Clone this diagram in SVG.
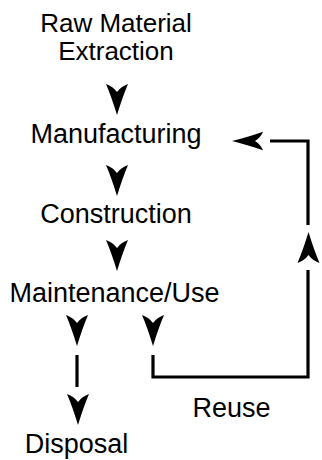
<svg xmlns="http://www.w3.org/2000/svg" xmlns:xlink="http://www.w3.org/1999/xlink" width="322" height="460" viewBox="0 0 322 460">
<style>
text{font-family:"Liberation Sans",Arial,sans-serif;font-size:27px;fill:#000;text-anchor:middle}
.ln{stroke:#000;stroke-width:3.2;fill:none;stroke-linecap:butt}
</style>
<defs>
<path id="ah" d="M0,31 Q-5.5,13 -11,0 Q-4,2.5 0,8 Q4,2.5 11,0 Q5.5,13 0,31 Z" fill="#000"/>
</defs>
<rect width="322" height="460" fill="#fff"/>
<g id="raw"><text x="116" y="32" style="font-size:26px">Raw Material</text><text x="116" y="60" style="font-size:26px">Extraction</text></g>
<g id="manufacturing"><text x="116" y="143">Manufacturing</text></g>
<g id="construction"><text x="116" y="223">Construction</text></g>
<g id="maintenance"><text x="114.5" y="302">Maintenance/Use</text></g>
<g id="disposal"><text x="76.5" y="453">Disposal</text></g>
<g id="reuse"><text x="231.5" y="417">Reuse</text></g>
<g id="connectors">
<use xlink:href="#ah" transform="translate(117,84)"/>
<use xlink:href="#ah" transform="translate(117,165)"/>
<use xlink:href="#ah" transform="translate(117,240)"/>
<use xlink:href="#ah" transform="translate(77,315)"/>
<use xlink:href="#ah" transform="translate(153,315)"/>
<line class="ln" x1="77" y1="355" x2="77" y2="387"/>
<use xlink:href="#ah" transform="translate(78,394)"/>
<polyline class="ln" points="153,355 153,377 308,377 308,270"/>
<use xlink:href="#ah" transform="translate(308.5,263) rotate(180)"/>
<polyline class="ln" points="308,225 308,141 270,141"/>
<use xlink:href="#ah" transform="translate(263,141) rotate(90) scale(0.85,1)"/>
</g>
</svg>
